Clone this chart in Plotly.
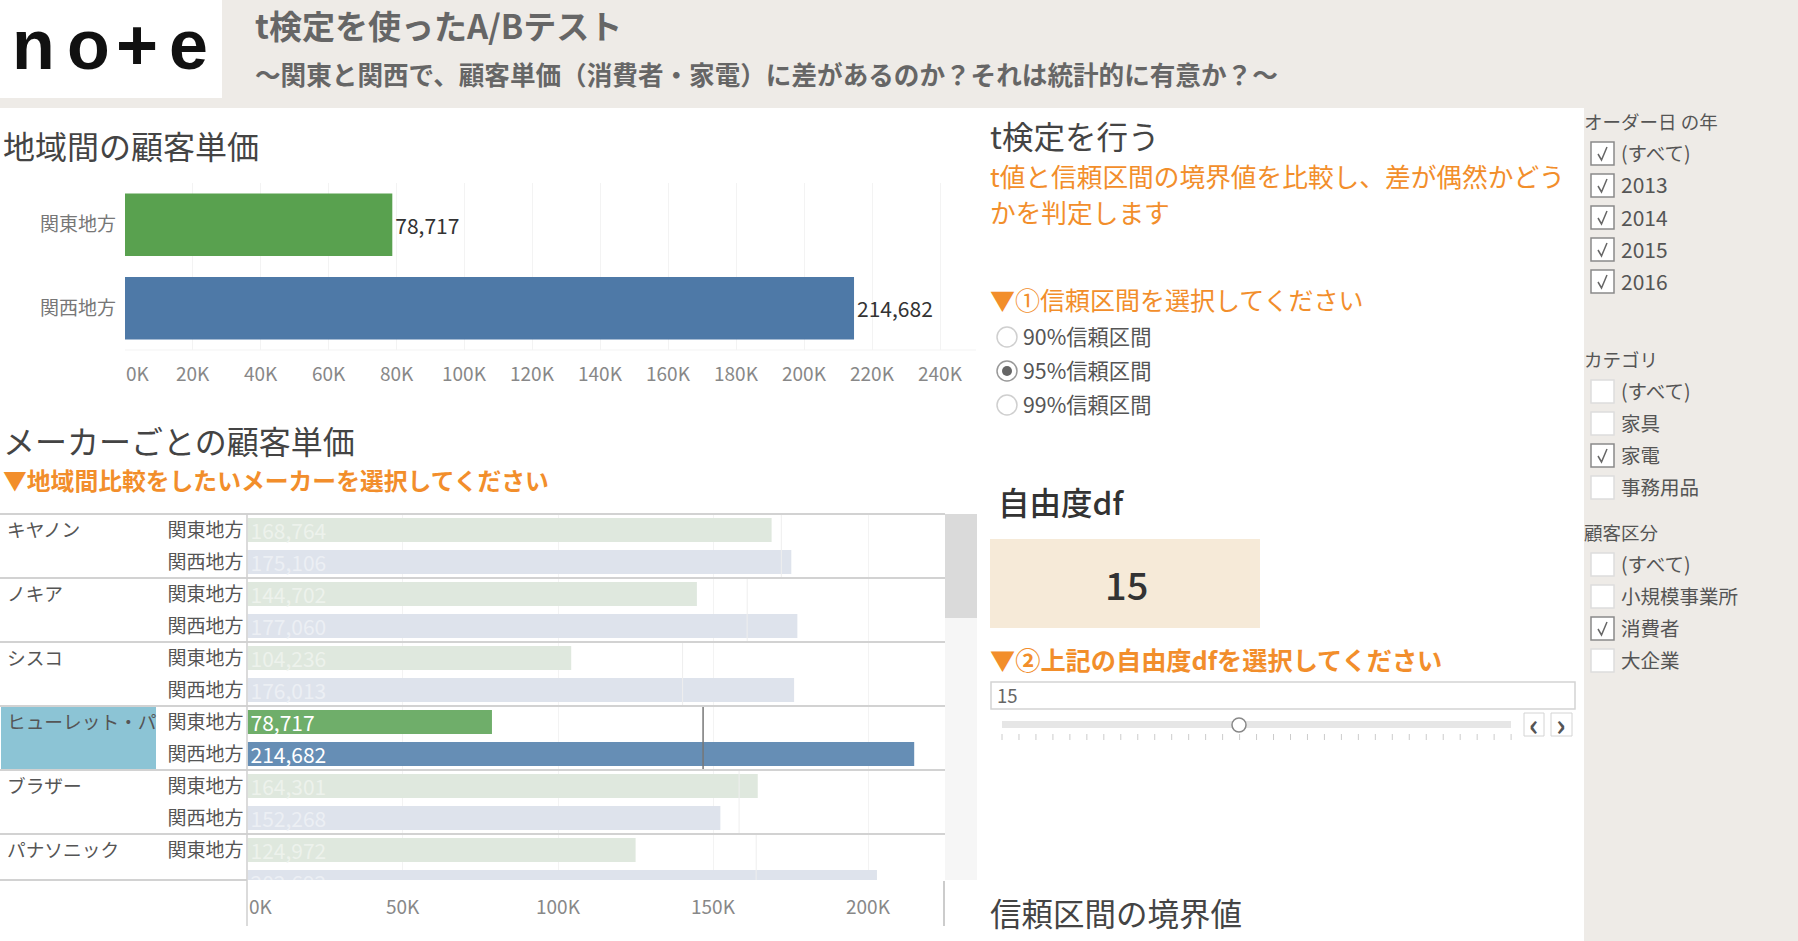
import plotly.graph_objects as go

W = 1798
H = 941

# top chart
regions = ["関東地方", "関西地方"]
region_values = [78717, 214682]
top_ticks = [0, 20000, 40000, 60000, 80000, 100000, 120000, 140000, 160000, 180000, 200000, 220000, 240000]
top_ticktext = ["0K", "20K", "40K", "60K", "80K", "100K", "120K", "140K", "160K", "180K", "200K", "220K", "240K"]

# maker chart
makers = ["キヤノン", "ノキア", "シスコ", "ヒューレット・パ", "ブラザー", "パナソニック"]
maker_kanto = [168764, 144702, 104236, 78717, 164301, 124972]
maker_kansai = [175106, 177060, 176013, 214682, 152268, 202692]
maker_avg = [171900, 160900, 140100, 146700, 158300, 163800]
selected = "ヒューレット・パ"
low_ticks = [0, 50000, 100000, 150000, 200000]
low_ticktext = ["0K", "50K", "100K", "150K", "200K"]

# filters
ci_options = ["90%信頼区間", "95%信頼区間", "99%信頼区間"]
ci_selected = "95%信頼区間"
year_items = ["(すべて)", "2013", "2014", "2015", "2016"]
year_checked = ["(すべて)", "2013", "2014", "2015", "2016"]
cat_items = ["(すべて)", "家具", "家電", "事務用品"]
cat_checked = ["家電"]
seg_items = ["(すべて)", "小規模事業所", "消費者", "大企業"]
seg_checked = ["消費者"]
df_value = 15

FONT = "Noto Sans CJK JP"
ORANGE = "#F28E2B"
PANEL = "#EEEBE7"
GRID = "#F3F3F3"


def px(x):
    return x / W


def py(y):
    return 1 - y / H


fig = go.Figure()
notes = []
shapes = []


def text(x, y, s, size, color="#555555", weight=400, anchor="left", family=FONT):
    # left aligned texts sit a little further left than the box says
    if anchor == "left":
        x = x - 2.5
    notes.append(dict(xref="paper", yref="paper", x=px(x), y=py(y - 1.5), text=s,
                      showarrow=False, xanchor=anchor, yanchor="middle", borderpad=0,
                      font=dict(size=size, color=color, family=family, weight=weight)))


def rect(x0, y0, x1, y1, fill, line=None, lw=1, layer="below"):
    shapes.append(dict(type="rect", xref="paper", yref="paper", x0=px(x0), x1=px(x1), y0=py(y0), y1=py(y1),
                       fillcolor=fill, line=dict(color=line or fill, width=lw if line else 0), layer=layer))


def hline(x0, x1, y, color, lw=1, layer="below"):
    shapes.append(dict(type="line", xref="paper", yref="paper", x0=px(x0), x1=px(x1), y0=py(y), y1=py(y),
                       line=dict(color=color, width=lw), layer=layer))


def vline(x, y0, y1, color, lw=1, layer="below"):
    shapes.append(dict(type="line", xref="paper", yref="paper", x0=px(x), x1=px(x), y0=py(y0), y1=py(y1),
                       line=dict(color=color, width=lw), layer=layer))


# backgrounds
rect(0, 0, W, 108, PANEL)
rect(1584, 108, W, H, PANEL)
rect(0, 0, 222, 98, "white")

# logo
for lx, ch, sz in [(33, "n", 70), (88, "o", 70), (137, "+", 72), (188, "e", 70)]:
    text(lx, 46, ch, sz, "#111111", 700, "center", "Liberation Sans")

text(256, 27, "t検定を使ったA/Bテスト", 33, "#666666", 700)
text(256, 75, "〜関東と関西で、顧客単価（消費者・家電）に差があるのか？それは統計的に有意か？〜", 25.6, "#666666", 700)

# top chart
text(4, 146, "地域間の顧客単価", 32, "#444444")
fig.add_trace(go.Bar(x=region_values, y=[0, 1], orientation="h", width=0.75,
                     marker=dict(color=["#59A14F", "#4E79A7"], line=dict(width=0)),
                     text=["{:,}".format(v) for v in region_values], textposition="outside",
                     textfont=dict(size=21, color="#333333", family=FONT), cliponaxis=False,
                     xaxis="x", yaxis="y"))
for v, t in zip(top_ticks, top_ticktext):
    notes.append(dict(xref="x", yref="paper", x=v, y=py(372), text=t, showarrow=False, borderpad=0,
                      xanchor="left" if v == 0 else "center", yanchor="middle",
                      font=dict(size=19, color="#888888", family=FONT)))
hline(125, 976, 350, GRID)

# maker chart
text(4, 441, "メーカーごとの顧客単価", 32, "#444444")
text(4, 481, "▼地域間比較をしたいメーカーを選択してください", 23.8, ORANGE, 700)

rows_x = []
rows_y = []
row_colors = []
row_text = []
text_colors = []
for i, m in enumerate(makers):
    on = m == selected
    rows_x += [maker_kanto[i], maker_kansai[i]]
    rows_y += [i * 2, i * 2 + 1]
    row_colors += ["#6FAE6A", "#668EB5"] if on else ["#DFE8DE", "#DEE3EC"]
    row_text += ["{:,}".format(maker_kanto[i]), "{:,}".format(maker_kansai[i])]
    text_colors += ["white", "white"] if on else ["#EDF2EC", "#ECEFF4"]

fig.add_trace(go.Bar(x=rows_x, y=rows_y, orientation="h", width=0.75,
                     marker=dict(color=row_colors, line=dict(width=0)),
                     text=row_text, textposition="inside", insidetextanchor="start", textangle=0,
                     constraintext="none", textfont=dict(size=21, color=text_colors, family=FONT),
                     xaxis="x2", yaxis="y2"))
for i, m in enumerate(makers):
    on = m == selected
    fig.add_trace(go.Scatter(x=[maker_avg[i], maker_avg[i]], y=[i * 2 - 0.5, i * 2 + 1.5], mode="lines",
                             line=dict(color="#777777" if on else "#EEEEEE", width=1.5 if on else 1),
                             xaxis="x2", yaxis="y2"))

for i, m in enumerate(makers):
    if m == selected:
        rect(1, 706, 156, 770, "#8CC4D5")
    text(8, 514 + i * 64 + 16, m, 18.7, "#555555")
for i in range(6):
    hline(0, 945, 514 + i * 64, "#D2D2D2", 2, "above")
hline(0, 247, 880, "#D2D2D2", 2, "above")
vline(247, 514, 926, "#CFCFCF", 1.5, "above")
vline(944, 881, 926, "#BBBBBB", 1.5)
# scroll bar
rect(945, 514, 977, 880, "#F6F6F6")
rect(945, 514, 977, 618, "#DADADA")
for v, t in zip(low_ticks, low_ticktext):
    notes.append(dict(xref="x2", yref="paper", x=v, y=py(905), text=t, showarrow=False, borderpad=0,
                      xanchor="left" if v == 0 else "center", yanchor="middle",
                      font=dict(size=19, color="#888888", family=FONT)))

# right column
text(991, 136, "t検定を行う", 31.5, "#444444")
text(991, 177, "t値と信頼区間の境界値を比較し、差が偶然かどう", 25.7, ORANGE)
text(991, 213, "かを判定します", 25.7, ORANGE)
text(991, 300, "▼①信頼区間を選択してください", 25, ORANGE)
for i, opt in enumerate(ci_options):
    cy = 337 + i * 34
    shapes.append(dict(type="circle", xref="paper", yref="paper", x0=px(997), x1=px(1017), y0=py(cy - 10), y1=py(cy + 10),
                       fillcolor="white", line=dict(color="#CFCFCF" if opt != ci_selected else "#999999", width=1.5)))
    if opt == ci_selected:
        shapes.append(dict(type="circle", xref="paper", yref="paper", x0=px(1002), x1=px(1012), y0=py(cy - 5), y1=py(cy + 5),
                           fillcolor="#666666", line=dict(width=0)))
    text(1024, cy, opt, 21.3, "#555555")

text(999, 502, "自由度df", 31.5, "#333333", 500)
rect(990, 539, 1260, 628, "#F6EAD8")
text(1126, 585, str(df_value), 38, "#333333", 500, "center")
text(991, 660, "▼②上記の自由度dfを選択してください", 25.2, ORANGE, 700)
rect(991, 682, 1575, 709, "white", "#D4D4D4", 1.5)
text(999, 696, str(df_value), 18.5, "#666666")
rect(1002, 721, 1511, 728, "#E6E6E6")
for k in range(31):
    vline(1002 + k * 16.97, 734, 740, "#CCCCCC")
shapes.append(dict(type="circle", xref="paper", yref="paper", x0=px(1232), x1=px(1246), y0=py(718), y1=py(732),
                   fillcolor="white", line=dict(color="#888888", width=1.5)))
rect(1524, 713, 1544, 736, "white", "#D4D4D4")
rect(1551, 713, 1572, 736, "white", "#D4D4D4")
text(1534, 724, "‹", 30, "#555555", 700, "center")
text(1561, 724, "›", 30, "#555555", 700, "center")
text(991, 913, "信頼区間の境界値", 31.5, "#444444")


def filter_block(title, title_y, items, checked):
    text(1585, title_y, title, 18.5, "#555555")
    for i, item in enumerate(items):
        cy = title_y + 32 * (i + 1)
        on = item in checked
        rect(1591, cy - 12, 1614, cy + 11, "white", "#8A8A8A" if on else "#DDDDDD", 1.5, "above")
        if on:
            shapes.append(dict(type="path", xref="paper", yref="paper",
                               path="M %f %f L %f %f L %f %f" % (px(1598), py(cy), px(1601.5), py(cy + 6), px(1607), py(cy - 7)),
                               line=dict(color="#666666", width=1.5), layer="above"))
        text(1622, cy, item, 21 if item.isdigit() else 19.5, "#555555")


filter_block("オーダー日 の年", 122, year_items, year_checked)
filter_block("カテゴリ", 360, cat_items, cat_checked)
filter_block("顧客区分", 533, seg_items, seg_checked)

fig.update_layout(
    width=W, height=H, margin=dict(l=0, r=0, t=0, b=0), paper_bgcolor="white", plot_bgcolor="rgba(0,0,0,0)",
    showlegend=False, barmode="overlay", shapes=shapes, annotations=notes,
    font=dict(family=FONT),
    xaxis=dict(domain=[px(125), px(976)], range=[0, 250600], tickvals=top_ticks, showticklabels=False,
               showgrid=True, gridcolor=GRID, zeroline=False, showline=False, anchor="y"),
    yaxis=dict(domain=[py(350), py(183)], range=[1.5, -0.5], tickvals=[0, 1], ticktext=regions,
               tickfont=dict(size=19, color="#777777", family=FONT), ticks="", ticklabelstandoff=8,
               showgrid=False, zeroline=False, showline=False, anchor="x"),
    xaxis2=dict(domain=[px(247.5), px(945)], range=[0, 224600], tickvals=low_ticks, showticklabels=False,
                showgrid=True, gridcolor=GRID, zeroline=False, showline=False, anchor="y2"),
    yaxis2=dict(domain=[py(880), py(514)], range=[10.94, -0.5], tickvals=list(range(12)), ticktext=regions * 6,
                tickfont=dict(size=19, color="#555555", family=FONT), ticks="", ticklabelstandoff=3,
                showgrid=False, zeroline=False, showline=False, anchor="x2"),
)

fig.write_html("out.html", config=dict(displayModeBar=False),
               post_script="document.body.style.margin='0';document.body.style.overflow='hidden';")
